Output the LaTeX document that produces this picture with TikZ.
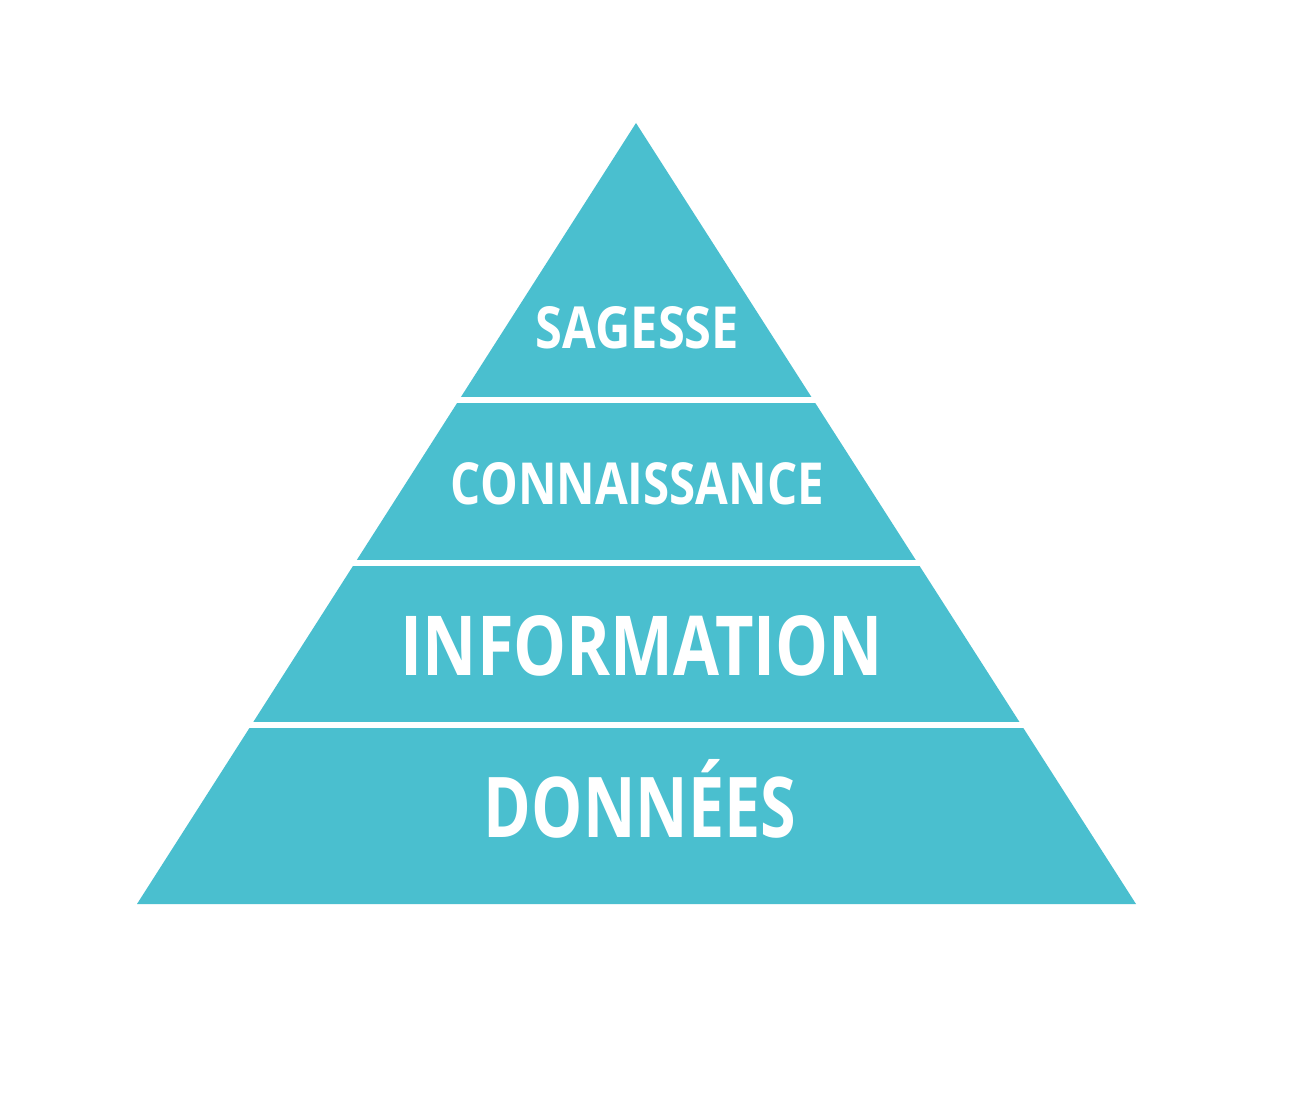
\documentclass[tikz,border=0pt]{standalone}
\usepackage{fontspec}
\usepackage{graphicx}
\setmainfont{Open Sans}[BoldFont={* Bold}]
\definecolor{pyrteal}{HTML}{4ABFCF}
\tikzset{
  layer/.style={inner sep=0pt, text=white, font=\bfseries, anchor=south},
  gap/.style={white, line width=5.5pt}
}
\begin{document}
\begin{tikzpicture}[x=1pt,y=-1pt]
  \useasboundingbox[fill=white] (0,0) rectangle (1294,1102);
  % pyramid body
  \coordinate (apex) at (636,123);
  \coordinate (bl) at (137,904);
  \coordinate (br) at (1136,904);
  \fill[pyrteal] (apex) -- (br) -- (bl) -- cycle;
  % white separators between layers
  \draw[gap] (440,400) -- (840,400);
  \draw[gap] (330,563) -- (945,563);
  \draw[gap] (225,725) -- (1050,725);
  % layer labels
  \node[layer] (sagesse) at (637.5,349) {\resizebox{203pt}{42pt}{SAGESSE}};
  \node[layer] (connaissance) at (637.5,505) {\resizebox{373pt}{42pt}{CONNAISSANCE}};
  \node[layer] (information) at (642,677) {\resizebox{482pt}{60pt}{INFORMATION}};
  \node[layer] (donnees) at (640,839) {\resizebox{312pt}{78pt}{DONNÉES}};
\end{tikzpicture}
\end{document}
